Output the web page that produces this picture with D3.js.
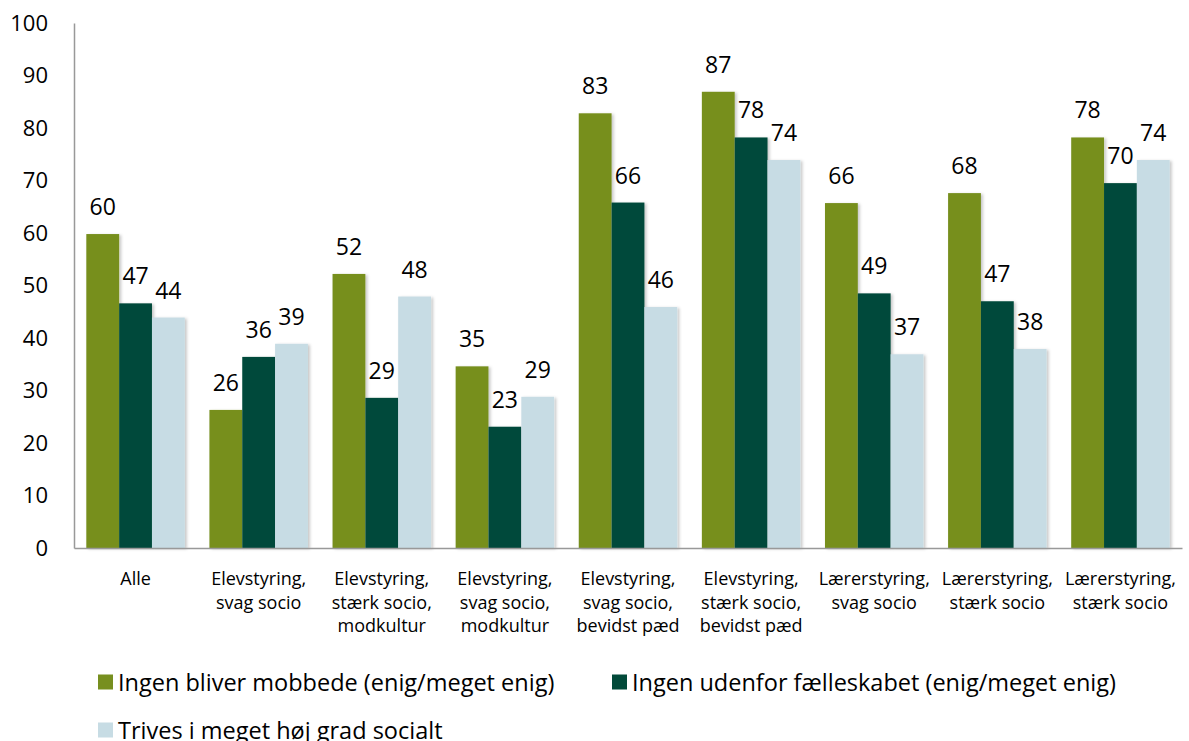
<!DOCTYPE html>
<html><head><meta charset="utf-8">
<script src="https://cdn.jsdelivr.net/npm/d3@7"></script>
<style>body{margin:0;background:#fff}svg{font-family:"Open Sans",sans-serif}</style>
</head><body><svg id="c" width="1189" height="741"></svg>
<script>
const categories = [["Alle"],["Elevstyring,","svag socio"],["Elevstyring,","stærk socio,","modkultur"],["Elevstyring,","svag socio,","modkultur"],["Elevstyring,","svag socio,","bevidst pæd"],["Elevstyring,","stærk socio,","bevidst pæd"],["Lærerstyring,","svag socio"],["Lærerstyring,","stærk socio"],["Lærerstyring,","stærk socio"]];
const seriesNames = ["Ingen bliver mobbede (enig/meget enig)","Ingen udenfor fælleskabet (enig/meget enig)","Trives i meget høj grad socialt"];
const mobbede = [59.8,26.3,52.2,34.6,82.8,86.9,65.7,67.6,78.2];
const udenfor = [46.6,36.4,28.6,23.1,65.8,78.2,48.5,47.0,69.5];
const trives  = [43.9,38.9,47.9,28.8,45.9,73.9,36.9,37.9,73.9];
const yTicks = [0,10,20,30,40,50,60,70,80,90,100];
const colors = ["#778F1F","#024A3A","#C7DCE4"];
const series = [mobbede, udenfor, trives];

const svg = d3.select("#c");
const x0 = 74, x1 = 1182, yBottom = 548, yTop = 23;
const x = d3.scaleBand().domain(d3.range(categories.length)).range([x0,x1]).paddingInner(0.2).paddingOuter(0.1);
const xs = d3.scaleBand().domain(d3.range(3)).range([0,x.bandwidth()]);
const y = d3.scaleLinear().domain([0,100]).range([yBottom,yTop]);

const defs = svg.append("defs");
const f = defs.append("filter").attr("id","sh").attr("x","-20%").attr("y","-5%").attr("width","150%").attr("height","115%");
f.append("feDropShadow").attr("dx",2).attr("dy",1).attr("stdDeviation",1.5).attr("flood-color","#000").attr("flood-opacity",0.22);

const yAxis = d3.axisLeft(y).tickValues(yTicks).tickSize(0).tickPadding(26);
const ga = svg.append("g").attr("transform",`translate(${x0},0)`).call(yAxis);
ga.select(".domain").attr("stroke","#999").attr("stroke-width",1.5);
ga.selectAll("text").attr("font-size",22).attr("fill","#000").attr("font-family","'Open Sans',sans-serif");

const groups = svg.append("g").selectAll("g").data(categories).join("g")
  .attr("transform",(d,i)=>`translate(${x(i)},0)`);
series.forEach((s,si)=>{
  groups.append("rect")
    .attr("x",xs(si)).attr("width",xs.bandwidth())
    .attr("y",(d,i)=>y(s[i])).attr("height",(d,i)=>yBottom-y(s[i]))
    .attr("fill",colors[si]).attr("filter","url(#sh)");
});
series.forEach((s,si)=>{
  groups.append("text")
    .attr("x",xs(si)+xs.bandwidth()/2).attr("y",(d,i)=>y(s[i])-19)
    .attr("text-anchor","middle").attr("font-size",23).attr("fill","#000")
    .text((d,i)=>d3.format(".0f")(s[i]));
});

const xAxis = d3.axisBottom(x).tickSize(0).tickFormat("");
const gx = svg.append("g").attr("transform",`translate(0,${yBottom})`).call(xAxis);
gx.select(".domain").attr("stroke","#999").attr("stroke-width",1.5);

groups.append("text").attr("text-anchor","middle").attr("font-size",18).attr("fill","#000")
  .attr("x",x.bandwidth()/2)
  .selectAll("tspan").data(d=>d).join("tspan")
  .attr("x",x.bandwidth()/2).attr("y",(d,i)=>585+i*23.5).text(d=>d);

const legendPos = [[98,682],[612,682],[98,730]];
const lg = svg.append("g").selectAll("g").data(seriesNames).join("g")
  .attr("transform",(d,i)=>`translate(${legendPos[i][0]},${legendPos[i][1]})`);
lg.append("rect").attr("x",0).attr("y",-7.5).attr("width",15).attr("height",15).attr("fill",(d,i)=>colors[i]);
lg.append("text").attr("x",20).attr("y",9).attr("font-size",23.5).attr("fill","#000").text(d=>d);
</script></body></html>
